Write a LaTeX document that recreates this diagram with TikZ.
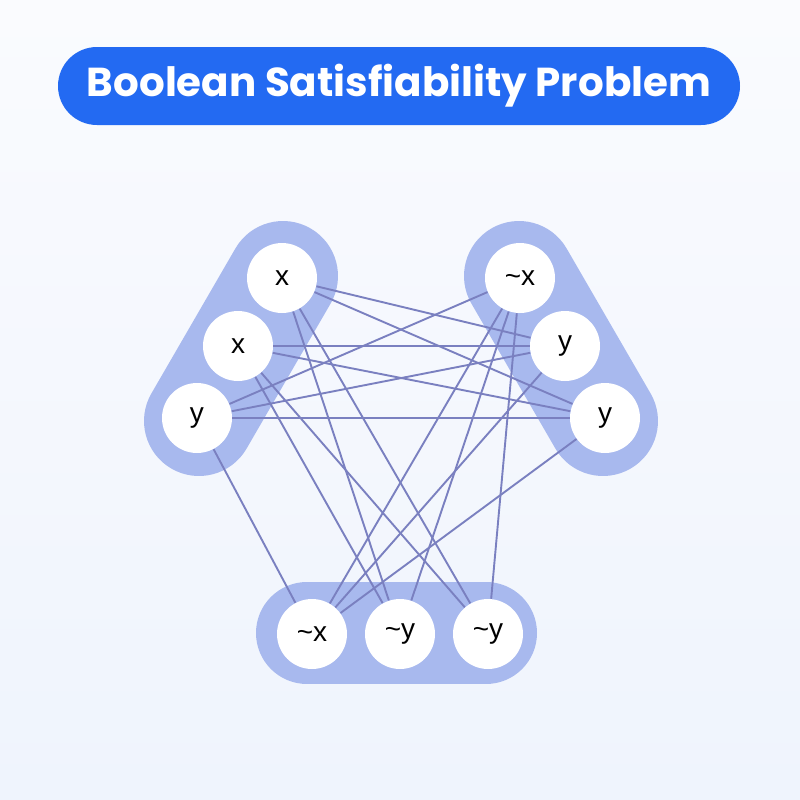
\documentclass[tikz,border=0pt]{standalone}
\usepackage{fontspec}
\setmainfont{Liberation Sans}
\newfontfamily\titlefont{Poppins}

\definecolor{bgtop}{RGB}{250,251,254}
\definecolor{bgbottom}{RGB}{239,244,253}
\definecolor{titleblue}{RGB}{35,106,242}
\definecolor{clauseblue}{RGB}{168,185,238}
\definecolor{linkblue}{RGB}{122,128,192}

\begin{document}
\begin{tikzpicture}[x = 0.5pt, y = -0.5pt,
    literal/.style = {shape = circle, fill = white, minimum size = 35pt, inner sep = 0pt,
        font = \fontsize{14}{16}\selectfont},
    clause/.style = {draw = clauseblue, line width = 55pt, line cap = round},
    link/.style = {draw = linkblue, line width = 0.95pt}]
    \useasboundingbox (0,0) rectangle (800,800);
    \shade[top color = bgtop, bottom color = bgbottom] (0,0) rectangle (800,800);
    % title
    \node (title) [fill = titleblue, text = white, rounded corners = 19.5pt,
        minimum width = 341pt, minimum height = 39pt, inner sep = 0pt,
        font = \titlefont\bfseries\fontsize{20.2}{24}\selectfont] at (399,86)
        {Boolean Satisfiability Problem};
    % clauses
    \draw[clause] (283,276) -- (199,421);
    \draw[clause] (519,276) -- (603,421);
    \draw[clause, line width = 51pt] (307,633) -- (486,633);
    % literals
    \node[literal] (x1) at (282,278) {x};
    \node[literal] (x2) at (238,346) {x};
    \node[literal] (y1) at (197,418) {y};
    \node[literal] (nx1) at (520,278) {\textasciitilde x};
    \node[literal] (y2) at (565,346) {y};
    \node[literal] (y3) at (605,418) {y};
    \node[literal] (nx2) at (312,634) {\textasciitilde x};
    \node[literal] (ny1) at (400,634) {\textasciitilde y};
    \node[literal] (ny2) at (488,634) {\textasciitilde y};
    % links
    \foreach \a/\b in {x1/y2, x1/y3, x1/ny1, x1/ny2, x2/y2, x2/y3, x2/ny1, x2/ny2,
        y1/nx1, y1/y2, y1/y3, y1/nx2, nx1/nx2, nx1/ny1, nx1/ny2, y2/nx2, y3/nx2}
        \draw[link] (\a) -- (\b);
\end{tikzpicture}
\end{document}
